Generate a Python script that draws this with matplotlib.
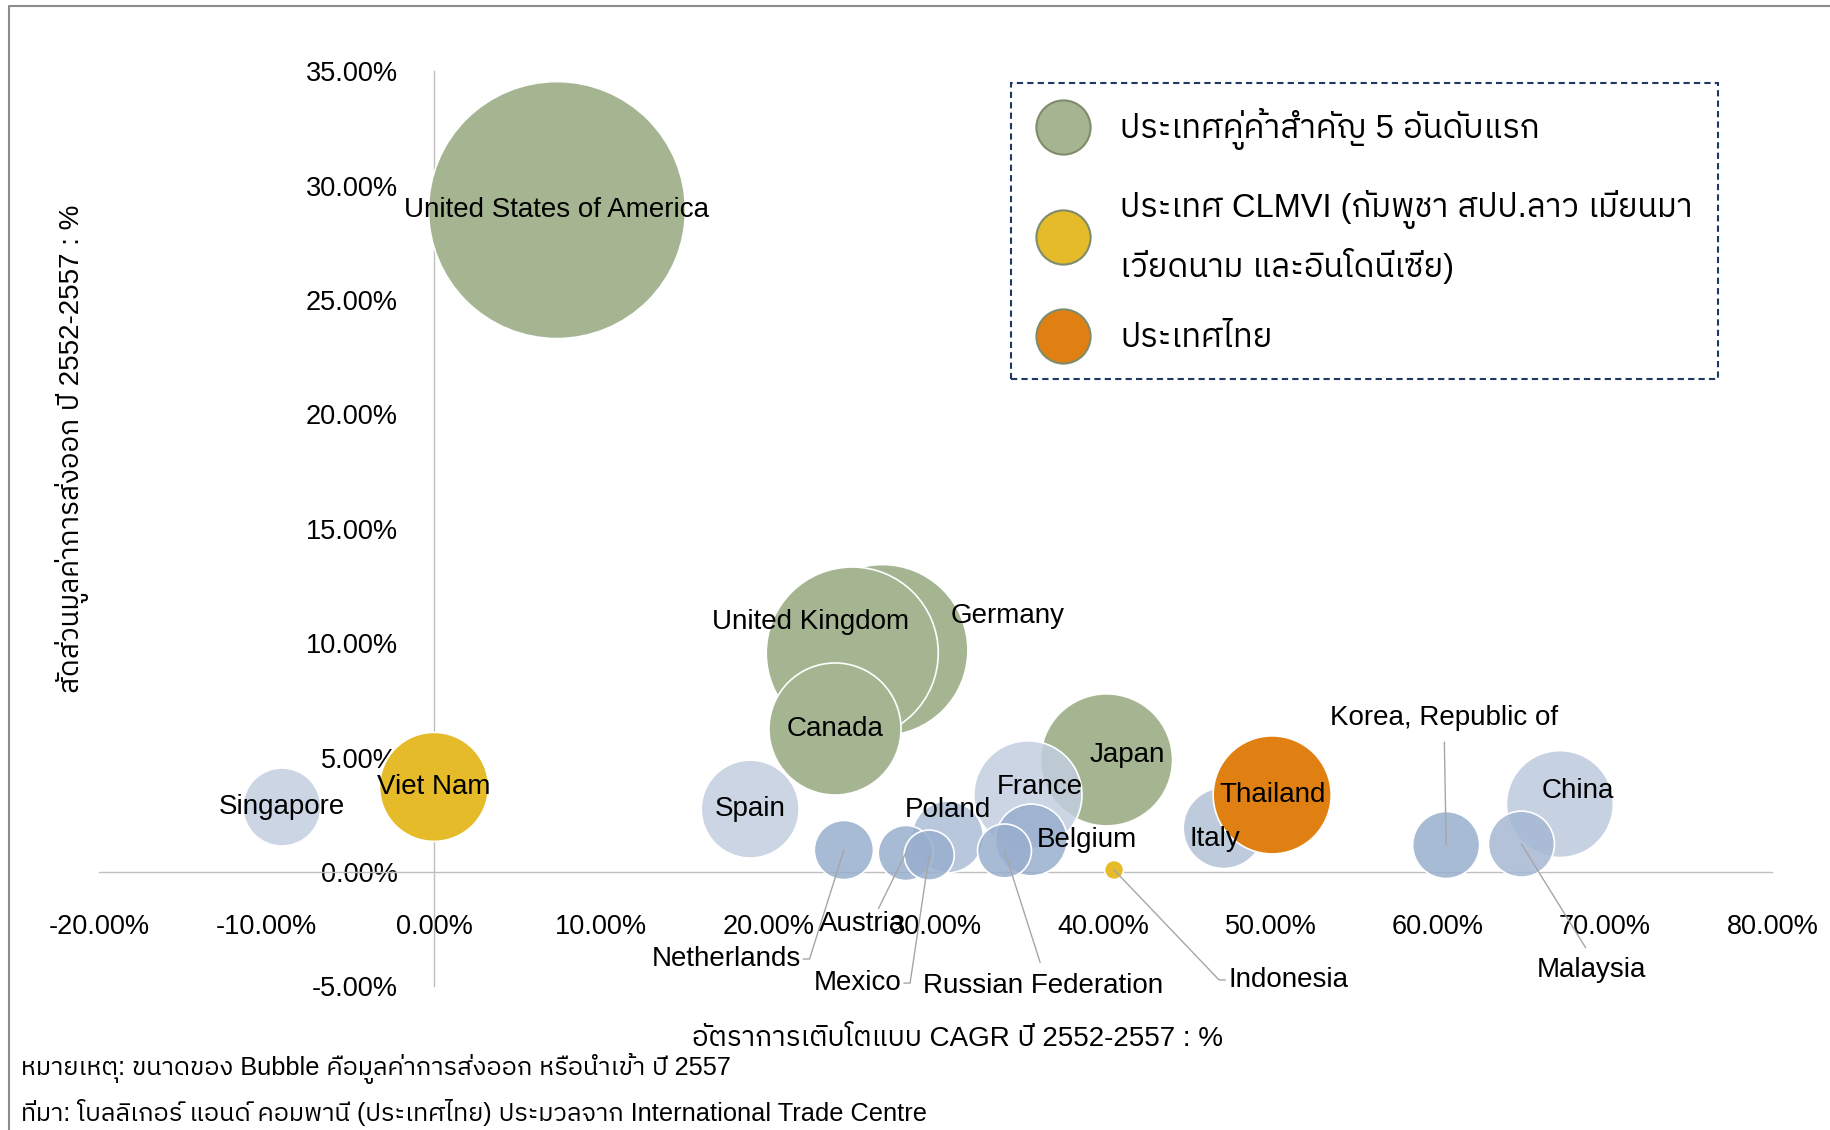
import matplotlib
matplotlib.use("Agg")
import matplotlib.pyplot as plt
from matplotlib import font_manager
from matplotlib.ft2font import FT2Font
from matplotlib.lines import Line2D
from matplotlib.ticker import FuncFormatter, MultipleLocator
import numpy as np

# ---- data (drawing order: later bubbles sit on top) ----
countries = ["Germany", "United Kingdom", "Canada", "United States of America", "Japan",
             "Singapore", "Spain", "Netherlands", "Poland", "Austria", "Mexico",
             "France", "Belgium", "Russian Federation", "Italy", "China",
             "Korea, Republic of", "Malaysia", "Viet Nam", "Indonesia", "Thailand"]
cagr = [26.8, 25.0, 23.97, 7.35, 40.2,
        -9.09, 18.9, 24.5, 30.7, 28.2, 29.6,
        35.5, 35.7, 34.1, 47.2, 67.3,
        60.5, 65.0, 0.0, 40.65, 50.1]          # x, %
share = [9.70, 9.57, 6.25, 28.93, 4.90,
         2.84, 2.75, 0.96, 1.53, 0.83, 0.74,
         3.37, 1.40, 0.92, 1.92, 2.97,
         1.18, 1.22, 3.72, 0.09, 3.37]         # y, %
value = [443, 448, 264, 1000, 264,
         92, 145, 53, 78, 46, 38,
         177, 78, 44, 99, 173,
         68, 66, 180, 5.5, 211]                # bubble size (export value)
group = ["top5", "top5", "top5", "top5", "top5",
         "other", "other", "other", "other", "other", "other",
         "other", "other", "other", "other", "other",
         "other", "other", "clmvi", "clmvi", "thai"]

legend_labels = ["ประเทศคู่ค้าสำคัญ 5 อันดับแรก",
                 "ประเทศ CLMVI (กัมพูชา สปป.ลาว เมียนมา\nเวียดนาม และอินโดนีเซีย)",
                 "ประเทศไทย"]
x_title = "อัตราการเติบโตแบบ CAGR ปี 2552-2557 : %"
y_title = "สัดส่วนมูลค่าการส่งออก ปี 2552-2557 : %"
note = "หมายเหตุ: ขนาดของ Bubble คือมูลค่าการส่งออก หรือนำเข้า ปี 2557"
source = "ที่มา: โบลลิเกอร์ แอนด์ คอมพานี (ประเทศไทย) ประมวลจาก International Trade Centre"


def thai_fonts():
    found = []
    for f in font_manager.fontManager.ttflist:
        if f.name in found or "CJK" in f.name:
            continue
        try:
            if 0x0E01 in FT2Font(f.fname).get_charmap():
                found.append(f.name)
        except Exception:
            pass
    found.sort(key=lambda n: 0 if "Thai" in n else 1)
    return found


plt.rcParams["font.family"] = ["Liberation Sans"] + thai_fonts()[:1] + ["DejaVu Sans"]

W, H, DPI = 1830, 1130, 100
fig = plt.figure(figsize=(W / DPI, H / DPI), dpi=DPI)
ax = fig.add_axes([0.05432, 0.12708, 0.9142, 0.80991])

group_colors = {"top5": "#A5B592", "clmvi": "#E5BB2A", "thai": "#E08012"}
blue_shade = {"Singapore": "#C2CEDF", "Spain": "#C2CEDF", "France": "#C2CEDF", "China": "#BCCADD",
              "Italy": "#B3C2D8", "Poland": "#ACBDD6", "Malaysia": "#A6B8D3"}
colors, alphas = [], []
for c, g in zip(countries, group):
    if g == "other":
        colors.append(blue_shade.get(c, "#99AFCE"))
        alphas.append(0.85)
    else:
        colors.append(group_colors[g])
        alphas.append(1.0)
rgba = [matplotlib.colors.to_rgba(c, a) for c, a in zip(colors, alphas)]

vals = np.array(value, dtype=float)
max_d_pt = 257 * 72 / DPI
sizes = max_d_pt ** 2 * vals / vals.max()
ax.scatter(cagr, share, s=sizes, c=rgba, edgecolors="white", linewidths=1.2,
           clip_on=False, zorder=3)

# labels: offsets in pixels from the bubble centre
label_offset = {
    "United States of America": (0, 0), "Germany": (125, 34), "United Kingdom": (-42, 31),
    "Canada": (0, 0), "Japan": (21, 5), "Viet Nam": (0, 0), "Singapore": (0, 0),
    "Spain": (0, 0), "Poland": (0, 27), "France": (12, 8), "Belgium": (56, 0),
    "Italy": (-9, -11), "Thailand": (0, 0), "China": (18, 13),
    "Korea, Republic of": (-2, 127), "Netherlands": (-118, -109), "Austria": (-44, -71),
    "Mexico": (-72, -128), "Russian Federation": (39, -135), "Indonesia": (174, -110),
    "Malaysia": (70, -126),
}
# leader lines: (relpos on label, arm angle or None, gap)
leaders = {
    "Korea, Republic of": ((0.5, 0.0), None, 8),
    "Netherlands": ((1.0, 0.5), 0, 2),
    "Austria": ((0.68, 1.0), None, 2),
    "Mexico": ((1.0, 0.5), 0, 2),
    "Russian Federation": ((0.5, 1.0), None, 8),
    "Indonesia": ((0.0, 0.5), 180, 2),
    "Malaysia": ((0.5, 1.0), None, 8),
}
for name, x, y in zip(countries, cagr, share):
    dx, dy = label_offset[name]
    kw = {}
    if name in leaders:
        rel, arm, gap = leaders[name]
        cs = "arc3,rad=0" if arm is None else f"arc,angleA={arm},armA=9,angleB=0,armB=0,rad=0"
        kw["arrowprops"] = dict(arrowstyle="-", color="#A6A6A6", lw=1.0, relpos=rel,
                                connectionstyle=cs, shrinkA=gap, shrinkB=0, patchA=None)
    ax.annotate(name, (x, y), xytext=(dx, dy), textcoords="offset pixels",
                ha="center", va="center", fontsize=20, color="black", zorder=5, **kw)

# axes through the origin
ax.set_xlim(-20, 80)
ax.set_ylim(-5, 35)
ax.spines["left"].set_position(("data", 0))
ax.spines["bottom"].set_position(("data", 0))
for s in ["top", "right"]:
    ax.spines[s].set_visible(False)
for s in ["left", "bottom"]:
    ax.spines[s].set_color("#BFBFBF")
    ax.spines[s].set_linewidth(1.0)
ax.xaxis.set_major_locator(MultipleLocator(10))
ax.yaxis.set_major_locator(MultipleLocator(5))
pct = FuncFormatter(lambda v, p: f"{v:.2f}%")
ax.xaxis.set_major_formatter(pct)
ax.yaxis.set_major_formatter(pct)
ax.tick_params(axis="both", length=0, labelsize=19.5, labelcolor="black")
ax.tick_params(axis="x", pad=30)
ax.tick_params(axis="y", pad=26)
ax.set_facecolor("none")

# legend
handles = [Line2D([], [], marker="o", ls="", markersize=39, markerfacecolor=group_colors[g],
                  markeredgecolor="#7E8C6C", markeredgewidth=1.5)
           for g in ["top5", "clmvi", "thai"]]
leg = ax.legend(handles, legend_labels, loc="upper left", bbox_to_anchor=(1011 / W, 1 - 83 / H),
                bbox_transform=fig.transFigure, borderaxespad=0, fontsize=23.5, frameon=True,
                fancybox=False, handlelength=1.66, handletextpad=0.92, borderpad=0.77,
                labelspacing=1.22, framealpha=1)
frame = leg.get_frame()
frame.set_edgecolor("#1F3864")
frame.set_linestyle((0, (3, 2)))
frame.set_linewidth(1.5)
for t in leg.get_texts():
    t.set_linespacing(1.64)

# titles and notes
fig.text(72 / W, 1 - 449 / H, y_title, rotation=90, ha="center", va="center", fontsize=20)
fig.text(957 / W, 1 - 1039 / H, x_title, ha="center", va="center", fontsize=20)
fig.text(21 / W, 1 - 1069 / H, note, ha="left", va="center", fontsize=18.3)
fig.text(21 / W, 1 - 1113 / H, source, ha="left", va="center", fontsize=18.3)

# outer frame of the picture
fig.add_artist(Line2D([9 / W, 9 / W, 1], [0, 1 - 6 / H, 1 - 6 / H], transform=fig.transFigure,
                      color="#8C8C8C", lw=1.5))

fig.savefig("out.png", dpi=DPI)
